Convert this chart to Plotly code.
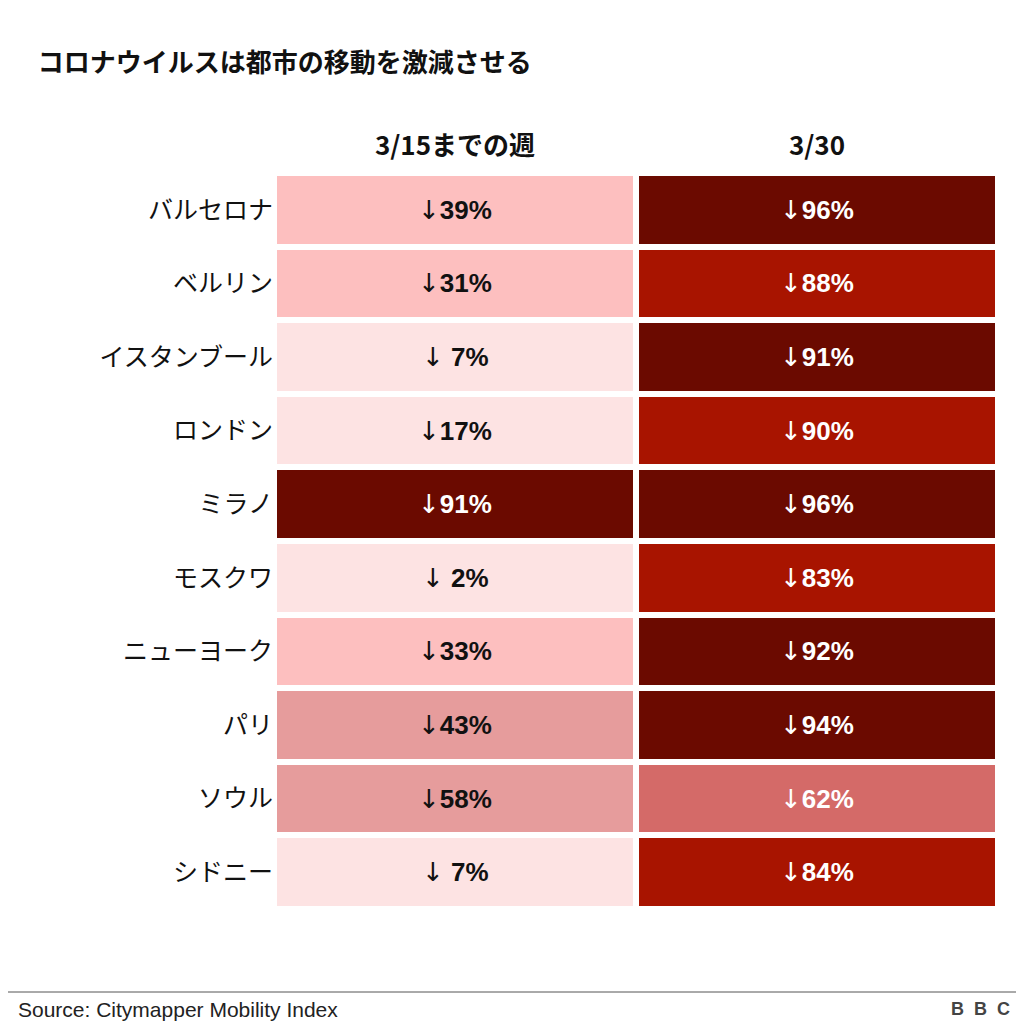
import plotly.graph_objects as go

cities = ["バルセロナ","ベルリン","イスタンブール","ロンドン","ミラノ","モスクワ","ニューヨーク","パリ","ソウル","シドニー"]
columns = ["3/15までの週", "3/30"]
week_to_315 = [39, 31, 7, 17, 91, 2, 33, 43, 58, 7]
on_330 = [96, 88, 91, 90, 96, 83, 92, 94, 62, 84]

colors = ["#fde3e3", "#fdbfbf", "#e69c9c", "#d46a68", "#a81400", "#6b0a00"]

def bin_of(v):
    if v < 20: return 0
    if v < 40: return 1
    if v < 60: return 2
    if v < 80: return 3
    if v <= 90: return 4
    return 5

z = [[bin_of(a), bin_of(b)] for a, b in zip(week_to_315, on_330)]
n = len(colors)
cs = []
for i, c in enumerate(colors):
    cs.append([i / n, c]); cs.append([(i + 1) / n, c])

fig = go.Figure(go.Heatmap(z=z, x=columns, y=cities, colorscale=cs, zmin=-0.5, zmax=5.5,
                           showscale=False, xgap=6, ygap=6, hoverinfo="skip"))

font = "Noto Sans CJK JP, Liberation Sans, sans-serif"
numfont = "Liberation Sans, Noto Sans CJK JP, sans-serif"
T, B = 165, 901
def py(p): return (B - p) / (B - T)

ann = []
for ci, col in enumerate(columns):
    vals = week_to_315 if ci == 0 else on_330
    for city, v in zip(cities, vals):
        b = bin_of(v)
        num = f"{v}%" if v >= 10 else f" {v}%"
        txt = f"<span style='font-family:DejaVu Sans;font-weight:normal'>↓</span><b>{num}</b>"
        ann.append(dict(x=col, y=city, text=txt, showarrow=False,
                        font=dict(size=26, color="white" if b >= 3 else "#111", family=numfont)))
ann.append(dict(x=-0.356, y=py(1001), xref="paper", yref="paper", xanchor="left", yanchor="middle",
                text="Source: Citymapper Mobility Index", showarrow=False,
                font=dict(size=21, color="#222", family="Liberation Sans, sans-serif")))
ann.append(dict(x=1.02, y=py(1001), xref="paper", yref="paper", xanchor="right", yanchor="middle",
                text="<b>B  B  C</b>", showarrow=False,
                font=dict(size=18, color="#444", family="Liberation Sans, sans-serif")))

fig.update_layout(
    width=1024, height=1024, paper_bgcolor="white", plot_bgcolor="white",
    margin=dict(l=266, r=34, t=T, b=1024 - B),
    title=dict(text="<b>コロナウイルスは都市の移動を激減させる</b>", x=0.029, xanchor="left",
               y=0.946, yanchor="middle", font=dict(size=26, color="#111", family=font)),
    annotations=ann,
    shapes=[dict(type="line", xref="paper", yref="paper", x0=-0.4, x1=1.1, y0=py(984), y1=py(984),
                 line=dict(color="#555", width=1))],
    xaxis=dict(side="top", showgrid=False, zeroline=False, ticks="",
               tickfont=dict(size=26, color="#111", family=font)),
    yaxis=dict(autorange="reversed", showgrid=False, zeroline=False, ticks="", ticklen=0,
               tickfont=dict(size=25, color="#111", family=font)),
)
fig.update_xaxes(ticklabelstandoff=12, tickprefix="<b>", ticksuffix="</b>")
fig.update_yaxes(ticklabelstandoff=0)
fig.write_html("out.html")
